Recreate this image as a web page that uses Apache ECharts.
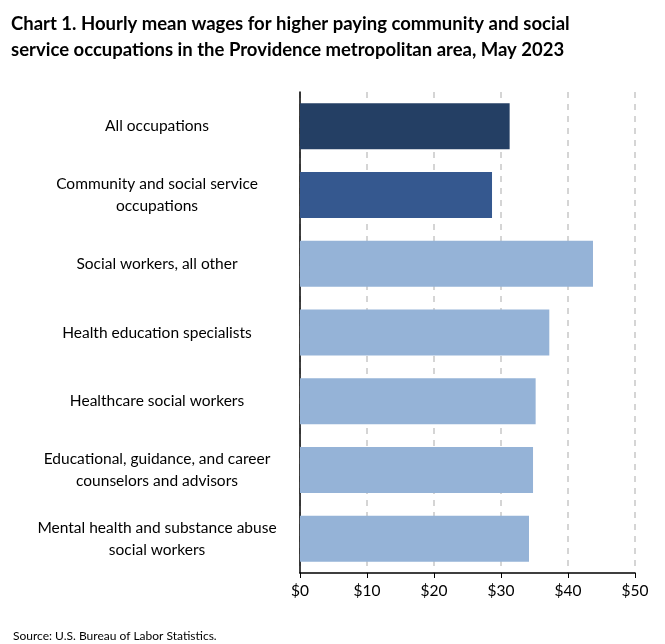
<!DOCTYPE html><html><head><meta charset="utf-8"><script src="https://cdn.jsdelivr.net/npm/echarts@6/dist/echarts.min.js"></script>
<style>html,body{margin:0;padding:0;background:#fff}#c{width:665px;height:644px}</style></head><body><div id="c"></div><script>
const categories=["All occupations","Community and social service\noccupations","Social workers, all other","Health education specialists","Healthcare social workers","Educational, guidance, and career\ncounselors and advisors","Mental health and substance abuse\nsocial workers"];
const values=[31.29,28.66,43.73,37.21,35.17,34.78,34.18];
const barColors=["#243F64","#35588F","#95B3D7","#95B3D7","#95B3D7","#95B3D7","#95B3D7"];
const F="Lato, 'Liberation Sans', sans-serif";
const chart=echarts.init(document.getElementById('c'));
chart.setOption({animation:false,
title:[{text:"Chart 1. Hourly mean wages for higher paying community and social\nservice occupations in the Providence metropolitan area, May 2023",left:6,top:6,textStyle:{fontFamily:F,fontSize:18.5,fontWeight:'bold',color:'#000',lineHeight:26}},
{text:"Source: U.S. Bureau of Labor Statistics.",left:8,top:625,textStyle:{fontFamily:F,fontSize:12,fontWeight:'normal',color:'#000'}}],
grid:{left:300,right:30,top:92,bottom:71},
xAxis:{type:'value',min:0,max:50,interval:10,axisLine:{show:true,lineStyle:{color:'#000',width:1.5}},axisTick:{show:true,length:5,lineStyle:{color:'#000'}},
axisLabel:{formatter:v=>'$'+v,color:'#000',fontSize:15.5,fontFamily:F,margin:10},
splitLine:{show:true,lineStyle:{type:[6,6],color:'#c8c8c8',width:1.5}}},
yAxis:{type:'category',inverse:true,data:categories,axisLine:{show:true,lineStyle:{color:'#000',width:1.5}},axisTick:{show:false},
axisLabel:{color:'#000',fontSize:15.5,fontFamily:F,align:'center',margin:143,lineHeight:22}},
series:[{type:'bar',data:values.map((v,i)=>({value:v,itemStyle:{color:barColors[i]}})),barWidth:46}]});
</script></body></html>
